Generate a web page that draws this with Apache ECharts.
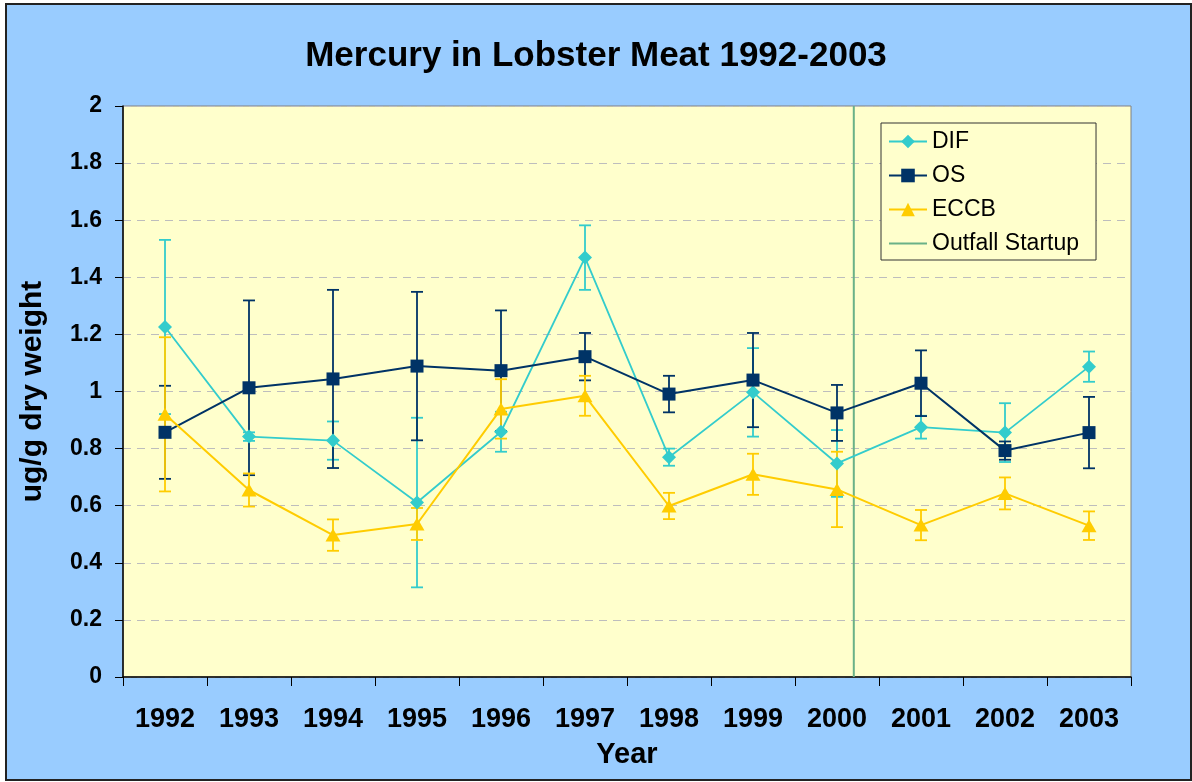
<!DOCTYPE html>
<html>
<head>
<meta charset="utf-8">
<script src="https://cdn.jsdelivr.net/npm/echarts@6/dist/echarts.min.js"></script>
<style>
  html, body { margin: 0; padding: 0; background: #ffffff; }
  #frame { position: absolute; left: 5px; top: 3px; width: 1183px; height: 774px; border: 2px solid #222; background: #99CCFF; }
  #chart { position: absolute; left: 0; top: 0; width: 1192px; height: 782px; }
</style>
</head>
<body>
<div id="frame"></div>
<div id="chart"></div>
<script>
// ---- data ----
const years = ['1992','1993','1994','1995','1996','1997','1998','1999','2000','2001','2002','2003'];
const difMean  = [1.226, 0.842, 0.828, 0.611, 0.859, 1.469, 0.770, 0.997, 0.748, 0.875, 0.856, 1.087];
const difErr   = [0.305, 0.015, 0.067, 0.297, 0.070, 0.113, 0.030, 0.155, 0.117, 0.040, 0.103, 0.053];
const osMean   = [0.857, 1.013, 1.044, 1.089, 1.073, 1.122, 0.991, 1.040, 0.925, 1.029, 0.793, 0.856];
const osErr    = [0.163, 0.306, 0.312, 0.260, 0.211, 0.083, 0.064, 0.165, 0.098, 0.115, 0.032, 0.125];
const eccbMean = [0.920, 0.655, 0.497, 0.536, 0.939, 0.985, 0.599, 0.710, 0.657, 0.532, 0.643, 0.530];
const eccbErr  = [0.270, 0.058, 0.055, 0.056, 0.104, 0.070, 0.046, 0.072, 0.132, 0.053, 0.056, 0.050];
const outfallYear = 2000.2;       // position of the "Outfall Startup" line
const yTicks = [0, 0.2, 0.4, 0.6, 0.8, 1, 1.2, 1.4, 1.6, 1.8, 2];

const FONT = '"Liberation Sans", Arial, sans-serif';
const C_DIF = '#33CCCC', C_OS = '#003366', C_ECCB = '#FFCC00', C_OUT = '#6AB187';

function errData(mean, err) {
  return mean.map((m, i) => [i, m - err[i], m + err[i]]);
}
function errSeries(name, mean, err, color) {
  return {
    type: 'custom', name: name + ' err', xAxisIndex: 0, yAxisIndex: 0, z: 1, silent: true,
    encode: { x: 0, y: [1, 2] },
    data: errData(mean, err),
    renderItem: function (params, api) {
      const x = api.value(0);
      const lo = api.coord([x, api.value(1)]);
      const hi = api.coord([x, api.value(2)]);
      const w = 6;
      const st = { stroke: color, lineWidth: 1.8 };
      return { type: 'group', children: [
        { type: 'line', shape: { x1: lo[0], y1: lo[1], x2: hi[0], y2: hi[1] }, style: st },
        { type: 'line', shape: { x1: hi[0] - w, y1: hi[1], x2: hi[0] + w, y2: hi[1] }, style: st },
        { type: 'line', shape: { x1: lo[0] - w, y1: lo[1], x2: lo[0] + w, y2: lo[1] }, style: st }
      ]};
    }
  };
}

const chart = echarts.init(document.getElementById('chart'), null, { renderer: 'canvas' });
chart.setOption({
  backgroundColor: 'transparent',
  animation: false,
  title: {
    text: 'Mercury in Lobster Meat 1992-2003',
    left: 'center', top: 34,
    textStyle: { fontFamily: FONT, fontSize: 35, fontWeight: 'bold', color: '#000' }
  },
  grid: {
    left: 123, right: 61, top: 106, bottom: 105, show: true,
    backgroundColor: '#FFFFCC', borderColor: '#808080', borderWidth: 1
  },
  legend: {
    data: ['DIF', 'OS', 'ECCB',
      { name: 'Outfall Startup', itemStyle: { color: 'rgba(0,0,0,0)', borderWidth: 0 } }],
    orient: 'vertical', left: 881, top: 123,
    padding: [7, 17, 5, 7],
    itemWidth: 38, itemHeight: 17, itemGap: 11,
    backgroundColor: '#FFFFCC', borderColor: '#333', borderWidth: 1,
    textStyle: { fontFamily: FONT, fontSize: 23, color: '#000' }
  },
  xAxis: [{
    type: 'category', data: years, boundaryGap: true,
    name: 'Year', nameLocation: 'middle', nameGap: 63,
    nameTextStyle: { fontFamily: FONT, fontSize: 29, fontWeight: 'bold', color: '#000' },
    axisLine: { lineStyle: { color: '#000', width: 1.5 } },
    axisTick: { show: true, length: 9, inside: false, lineStyle: { color: '#000' } },
    axisLabel: { fontFamily: FONT, fontSize: 27, fontWeight: 'bold', color: '#000', margin: 29 },
    splitLine: { show: false }
  }, {
    type: 'value', min: 1991.5, max: 2003.5, show: false
  }],
  yAxis: {
    type: 'value', min: 0, max: 2, interval: 0.2,
    name: 'ug/g dry weight', nameLocation: 'middle', nameGap: 75, nameRotate: 90,
    nameTextStyle: { fontFamily: FONT, fontSize: 30, fontWeight: 'bold', color: '#000' },
    axisLine: { show: true, lineStyle: { color: '#000', width: 1.5 } },
    axisTick: { show: true, length: 8, inside: false, lineStyle: { color: '#000' } },
    axisLabel: {
      fontFamily: FONT, fontSize: 23, fontWeight: 'bold', color: '#000', margin: 21,
      formatter: function (v) { const t = yTicks.find(k => Math.abs(k - v) < 1e-6); return t === undefined ? '' : String(t); }
    },
    splitLine: { show: true, lineStyle: { color: '#BDBDBD', type: [8, 6], width: 1 } }
  },
  series: [
    errSeries('DIF', difMean, difErr, C_DIF),
    errSeries('OS', osMean, osErr, C_OS),
    errSeries('ECCB', eccbMean, eccbErr, C_ECCB),
    {
      name: 'DIF', type: 'line', data: difMean, z: 3,
      symbol: 'diamond', symbolSize: 14,
      lineStyle: { color: C_DIF, width: 1.8 }, itemStyle: { color: C_DIF }
    },
    {
      name: 'OS', type: 'line', data: osMean, z: 3,
      symbol: 'rect', symbolSize: 13,
      lineStyle: { color: C_OS, width: 2 }, itemStyle: { color: C_OS }
    },
    {
      name: 'ECCB', type: 'line', data: eccbMean, z: 3,
      symbol: 'triangle', symbolSize: [15, 13],
      lineStyle: { color: C_ECCB, width: 2 }, itemStyle: { color: C_ECCB }
    },
    {
      name: 'Outfall Startup', type: 'line', xAxisIndex: 1, yAxisIndex: 0, z: 2,
      data: [[outfallYear, 0], [outfallYear, 2]], symbol: 'none',
      lineStyle: { color: C_OUT, width: 2 }, itemStyle: { color: C_OUT }
    }
  ]
});
</script>
</body>
</html>
